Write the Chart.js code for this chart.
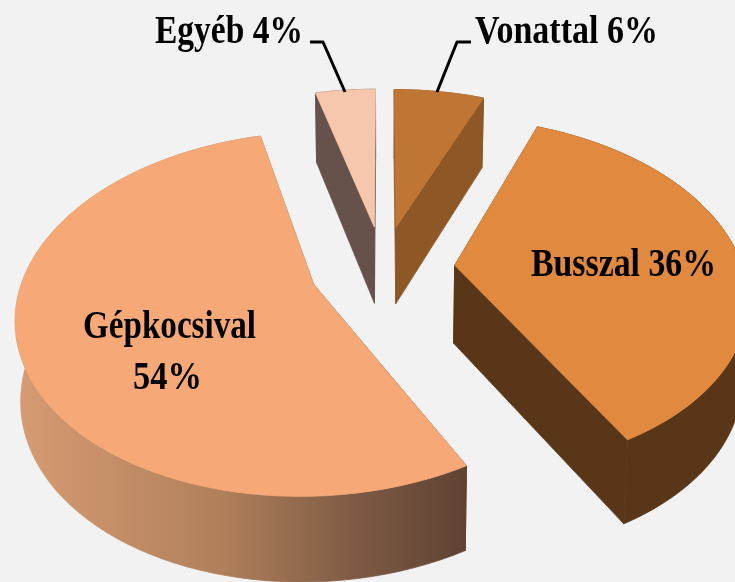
<!DOCTYPE html>
<html>
    <head>
        <meta charset="utf-8">
        <title> Utazás módja </title>
        <script src = "https://cdn.jsdelivr.net/npm/chart.js"> </script>
        <style>
            html, body { margin: 0; padding: 0; background: #f2f2f2; overflow: hidden; }
            canvas { display: block; filter: blur(0.5px); }
        </style>
    </head>

    <body>
            <div>
                <canvas id="myChart" width="735" height="582"></canvas>
            </div>

            <script>
                const categories = ['Vonattal', 'Busszal', 'Gépkocsival', 'Egyéb'];
                const shares = [6, 36, 54, 4];

                const topColors = ['#bf7533', '#e1893f', '#f6a877', '#f7c7ad'];
                const sideColors = ['#8e5726', '#5a3618', null, '#66524a'];
                const explode = [0.25, 0.25, 0.255, 0.25];
                const drawOrder = [3, 0, 2, 1];

                // perspective of the pie plane, fitted by eye to the picture
                const view = { cx: 383, cy: 268, a: 288, b: 172, p: 0.161 };

                function project(x, y) {
                    const s = 1 / (1 - view.p * y);
                    return { x: view.cx + view.a * x * s, y: view.cy + view.b * y * s };
                }

                function lower(x, y) {
                    const pt = project(x, y);
                    return { x: view.cx + (pt.x - view.cx) * 0.985, y: pt.y + 78 + 7 * y };
                }

                function fillShape(ctx, pts, color) {
                    ctx.beginPath();
                    pts.forEach((pt, i) => i ? ctx.lineTo(pt.x, pt.y) : ctx.moveTo(pt.x, pt.y));
                    ctx.closePath();
                    ctx.fillStyle = color;
                    ctx.strokeStyle = color;
                    ctx.lineWidth = 0.8;
                    ctx.fill();
                    ctx.stroke();
                }

                // the arcs come from the pie controller, only the projection is ours
                const pie3d = {
                    id: 'pie3d',
                    beforeDatasetDraw(chart) {
                        const ctx = chart.ctx;
                        const arcs = chart.getDatasetMeta(0).data;

                        drawOrder.forEach(i => {
                            const arc = arcs[i];
                            const mid = (arc.startAngle + arc.endAngle) / 2;
                            const ox = explode[i] * Math.cos(mid);
                            const oy = explode[i] * Math.sin(mid);

                            const rim = [];
                            const steps = 80;
                            for (let k = 0; k <= steps; k++) {
                                const t = arc.startAngle + (arc.endAngle - arc.startAngle) * k / steps;
                                rim.push([ox + Math.cos(t), oy + Math.sin(t)]);
                            }

                            let side = sideColors[i];
                            if (!side) {
                                side = ctx.createLinearGradient(20, 0, 467, 0);
                                side.addColorStop(0, '#d69b72');
                                side.addColorStop(0.45, '#b0805a');
                                side.addColorStop(0.75, '#7e5a44');
                                side.addColorStop(1, '#5e4232');
                            }

                            const first = rim[0];
                            const last = rim[steps];
                            fillShape(ctx, [project(ox, oy), project(first[0], first[1]), lower(first[0], first[1]), lower(ox, oy)], side);
                            fillShape(ctx, [project(ox, oy), project(last[0], last[1]), lower(last[0], last[1]), lower(ox, oy)], side);
                            fillShape(ctx, rim.map(q => project(q[0], q[1])).concat(rim.slice().reverse().map(q => lower(q[0], q[1]))), side);

                            fillShape(ctx, [project(ox, oy)].concat(rim.map(q => project(q[0], q[1]))), topColors[i]);
                        });
                        return false;
                    },
                    afterDatasetsDraw(chart) {
                        const ctx = chart.ctx;

                        ctx.strokeStyle = '#000';
                        ctx.lineWidth = 3;
                        ctx.lineJoin = 'round';
                        ctx.beginPath();
                        ctx.moveTo(310, 42); ctx.lineTo(323, 42); ctx.lineTo(345, 92);
                        ctx.moveTo(471, 42); ctx.lineTo(457, 42); ctx.lineTo(437, 92);
                        ctx.stroke();

                        const text = (str, left, right, base) => {
                            ctx.save();
                            ctx.font = 'bold 41px "Liberation Serif"';
                            ctx.fillStyle = '#000';
                            ctx.textBaseline = 'alphabetic';
                            ctx.translate(left, base);
                            ctx.scale((right - left) / ctx.measureText(str).width, 1);
                            ctx.fillText(str, 0, 0);
                            ctx.restore();
                        };
                        text(categories[3] + ' ' + shares[3] + '%', 155, 303, 43);
                        text(categories[0] + ' ' + shares[0] + '%', 475, 658, 43);
                        text(categories[1] + ' ' + shares[1] + '%', 531, 716, 276);
                        text(categories[2], 83, 256, 338);
                        text(shares[2] + '%', 133, 202, 389);
                    }
                };

                function createChart() {
                    new Chart(document.getElementById('myChart'), {
                        type: 'pie',
                        data: {
                            labels: categories,
                            datasets: [{
                                data: shares,
                                backgroundColor: topColors,
                                borderWidth: 0
                            }]
                        },
                        options: {
                            responsive: false,
                            animation: false,
                            rotation: 0,
                            plugins: {
                                legend: { display: false },
                                tooltip: { enabled: false }
                            }
                        },
                        plugins: [pie3d]
                    });
                }
                createChart();
            </script>
    </body>
</html>
